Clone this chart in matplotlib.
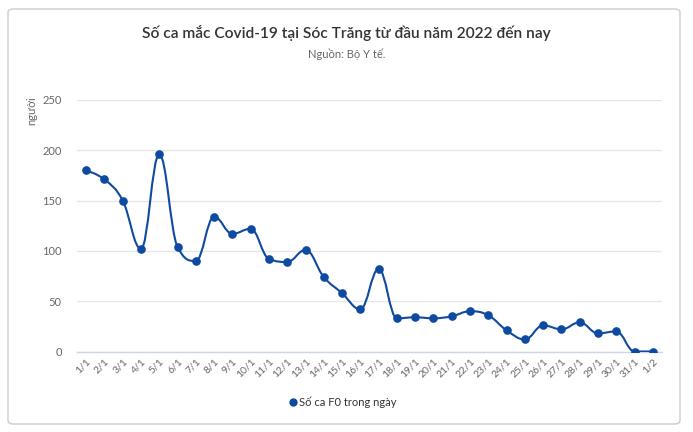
import matplotlib
matplotlib.use("Agg")
import matplotlib.pyplot as plt
import numpy as np
from matplotlib.path import Path
from matplotlib.patches import PathPatch, FancyBboxPatch
from matplotlib.lines import Line2D

plt.rcParams['font.family'] = ['Lato', 'DejaVu Sans']

# data
days = ['1/1', '2/1', '3/1', '4/1', '5/1', '6/1', '7/1', '8/1', '9/1', '10/1',
        '11/1', '12/1', '13/1', '14/1', '15/1', '16/1', '17/1', '18/1', '19/1', '20/1',
        '21/1', '22/1', '23/1', '24/1', '25/1', '26/1', '27/1', '28/1', '29/1', '30/1',
        '31/1', '1/2']
cases = [180, 171, 150, 102, 196, 104, 90, 134, 117, 122,
         92, 89, 101, 74, 58, 42, 82, 33, 34, 33,
         35, 40, 36, 21, 12, 26, 22, 29, 18, 20,
         0, 0]
yticks = [0, 50, 100, 150, 200, 250]

blue = '#0d4aa0'


def spline_path(xs, ys, smoothing=1.5):
    # highcharts style spline control points
    n = len(xs)
    denom = smoothing + 1
    left = [None] * n
    right = [None] * n
    for i in range(n):
        x, y = xs[i], ys[i]
        if 0 < i < n - 1:
            lx, ly = xs[i - 1], ys[i - 1]
            nx, ny = xs[i + 1], ys[i + 1]
            lcx = (smoothing * x + lx) / denom
            lcy = (smoothing * y + ly) / denom
            rcx = (smoothing * x + nx) / denom
            rcy = (smoothing * y + ny) / denom
            if rcx != lcx:
                corr = (rcy - lcy) * (rcx - x) / (rcx - lcx) + y - rcy
                lcy += corr
                rcy += corr
            if lcy > max(ly, y):
                lcy = max(ly, y)
                rcy = 2 * y - lcy
            elif lcy < min(ly, y):
                lcy = min(ly, y)
                rcy = 2 * y - lcy
            if rcy > max(ny, y):
                rcy = max(ny, y)
                lcy = 2 * y - rcy
            elif rcy < min(ny, y):
                rcy = min(ny, y)
                lcy = 2 * y - rcy
            left[i] = (lcx, lcy)
            right[i] = (rcx, rcy)
        else:
            left[i] = (x, y)
            right[i] = (x, y)
    verts = [(xs[0], ys[0])]
    codes = [Path.MOVETO]
    for i in range(1, n):
        verts += [right[i - 1], left[i], (xs[i], ys[i])]
        codes += [Path.CURVE4] * 3
    return Path(verts, codes)


fig = plt.figure(figsize=(6.93, 4.32), dpi=100)
W, H = 693, 432

border = FancyBboxPatch((8 / W, 8 / H), 672 / W, 415 / H,
                        boxstyle="round,pad=0,rounding_size=0.008",
                        transform=fig.transFigure, fill=False,
                        edgecolor='#cccccc', linewidth=1)
fig.patches.append(border)

fig.text(0.5, 1 - 33 / H, 'Số ca mắc Covid-19 tại Sóc Trăng từ đầu năm 2022 đến nay',
         ha='center', va='center', fontsize=11.2, color='#333333', fontweight='semibold')
fig.text(0.5, 1 - 54 / H, 'Nguồn: Bộ Y tế.', ha='center', va='center',
         fontsize=8, color='#666666')

ax = fig.add_axes([77 / W, (H - 351.5) / H, 585 / W, 251.5 / H])
x = np.arange(len(days))
ax.add_patch(PathPatch(spline_path(x, cases), fill=False, edgecolor=blue,
                       linewidth=1.5, zorder=3))
ax.plot(x, cases, linestyle='none', marker='o', markersize=5.2, color=blue, zorder=4)

ax.set_xlim(-0.5, len(days) - 0.5)
ax.set_ylim(0, 250)
ax.set_yticks(yticks)
ax.set_xticks(x)
ax.set_xticklabels(days, rotation=45, ha='right', rotation_mode='anchor',
                   fontsize=7.5, color='#666666')
ax.tick_params(axis='y', length=0, pad=11, labelsize=8, labelcolor='#666666')
ax.tick_params(axis='x', length=0, pad=4)
ax.grid(axis='y', color='#e6e6e6', linewidth=1)
ax.set_axisbelow(True)
for s in ['top', 'right', 'left']:
    ax.spines[s].set_visible(False)
ax.spines['bottom'].set_color('#ccd6eb')
ax.spines['bottom'].set_linewidth(1)

fig.text(32 / W, 1 - 111 / H, 'người', rotation=90, ha='center', va='center',
         fontsize=8, color='#666666')

handle = Line2D([], [], marker='o', markersize=5, color=blue, linestyle='none')
fig.legend([handle], ['Số ca F0 trong ngày'], loc='center',
           bbox_to_anchor=(342 / W, 1 - 402 / H), frameon=False, fontsize=8,
           labelcolor='#333333', handletextpad=0.1, handlelength=1)

fig.savefig('out.png', dpi=100)
